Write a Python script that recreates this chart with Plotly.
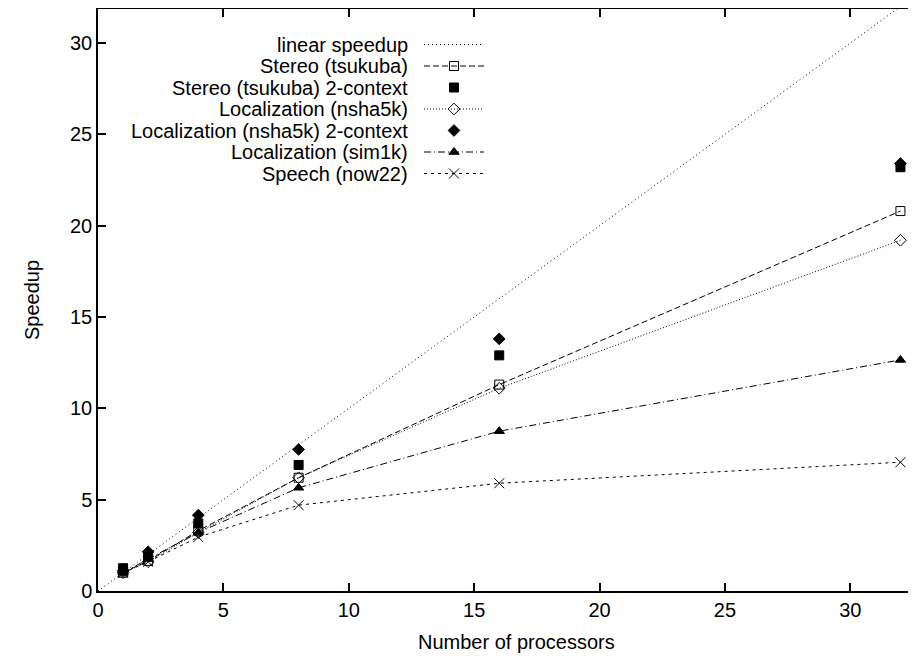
import plotly.graph_objects as go

# ---------------- data ----------------
procs = [1, 2, 4, 8, 16, 32]
linear_x = [0, 32]
linear_y = [0, 32]
stereo = [1.0, 1.65, 3.3, 6.2, 11.3, 20.8]
stereo_2ctx = [1.25, 1.9, 3.7, 6.9, 12.9, 23.2]
loc_nsha5k = [1.0, 1.6, 3.2, 6.2, 11.1, 19.2]
loc_nsha5k_2ctx = [1.1, 2.15, 4.15, 7.75, 13.8, 23.4]
loc_sim1k = [1.0, 1.75, 3.2, 5.65, 8.75, 12.65]
speech = [1.0, 1.6, 2.95, 4.7, 5.9, 7.05]

names = ["linear speedup", "Stereo (tsukuba)", "Stereo (tsukuba) 2-context",
         "Localization (nsha5k)", "Localization (nsha5k) 2-context",
         "Localization (sim1k)", "Speech (now22)"]
xtick_vals = [0, 5, 10, 15, 20, 25, 30]
ytick_vals = [0, 5, 10, 15, 20, 25, 30]

FONT = "Liberation Sans, Arial, sans-serif"
BLACK = "#000000"

styles = [
    dict(mode="lines", dash="1px,3px", symbol=None),
    dict(mode="lines+markers", dash="6px,3px", symbol="square-open"),
    dict(mode="markers", dash=None, symbol="square"),
    dict(mode="lines+markers", dash="1px,2px", symbol="diamond-open"),
    dict(mode="markers", dash=None, symbol="diamond"),
    dict(mode="lines+markers", dash="7px,3px,1px,3px", symbol="triangle-up"),
    dict(mode="lines+markers", dash="3px,4px", symbol="x-thin-open"),
]
series = [(linear_x, linear_y), (procs, stereo), (procs, stereo_2ctx),
          (procs, loc_nsha5k), (procs, loc_nsha5k_2ctx), (procs, loc_sim1k),
          (procs, speech)]
msize = {"square-open": 9, "square": 9, "diamond-open": 9, "diamond": 9,
         "triangle-up": 9, "x-thin-open": 10}

fig = go.Figure()
for (xs, ys), st, nm in zip(series, styles, names):
    kw = dict(x=xs, y=ys, mode=st["mode"], name=nm, showlegend=False,
              hoverinfo="skip")
    if "lines" in st["mode"]:
        kw["line"] = dict(color=BLACK, width=1, dash=st["dash"])
    if st["symbol"]:
        kw["marker"] = dict(symbol=st["symbol"], size=msize[st["symbol"]],
                            color=BLACK, line=dict(color=BLACK, width=1))
    fig.add_trace(go.Scatter(**kw))

# ---------------- geometry (screen pixels; page body has 8px margin) ----------------
OFF = 8
W, H = 916 - OFF, 658 - OFF
PL, PR, PT, PB = 98, 916, 9, 591          # plot area in screen pixels
L, T = PL - OFF, PT - OFF
B = H - (PB - OFF)
R = 0

# legend (gnuplot style) drawn on overlay axes in screen pixels
row_y0 = 44.5
row_dy = 21.5
text_right = 410
samp_x0, samp_x1 = 424, 484
for i, (st, nm) in enumerate(zip(styles, names)):
    yy = row_y0 + i * row_dy
    if "lines" in st["mode"]:
        fig.add_trace(go.Scatter(x=[samp_x0, samp_x1], y=[yy, yy], mode="lines",
                                 line=dict(color=BLACK, width=1, dash=st["dash"]),
                                 xaxis="x2", yaxis="y2", showlegend=False,
                                 hoverinfo="skip"))
    if st["symbol"]:
        fig.add_trace(go.Scatter(x=[(samp_x0 + samp_x1) / 2], y=[yy], mode="markers",
                                 marker=dict(symbol=st["symbol"], size=msize[st["symbol"]],
                                             color=BLACK, line=dict(color=BLACK, width=1)),
                                 xaxis="x2", yaxis="y2", showlegend=False,
                                 hoverinfo="skip"))
    fig.add_annotation(x=text_right, y=yy, xref="x2", yref="y2", text=nm,
                       showarrow=False, xanchor="right", yanchor="middle",
                       font=dict(family=FONT, size=20, color=BLACK))


def px(sx):
    return (sx - PL) / (PR - PL)


def py(sy):
    return (PB - sy) / (PB - PT)


fig.add_annotation(x=px(32), y=py(300), xref="paper", yref="paper", text="Speedup",
                   textangle=-90, showarrow=False, xanchor="center", yanchor="middle",
                   font=dict(family=FONT, size=20, color=BLACK))
fig.add_annotation(x=px(516), y=py(642), xref="paper", yref="paper",
                   text="Number of processors", showarrow=False,
                   xanchor="center", yanchor="middle",
                   font=dict(family=FONT, size=20, color=BLACK))

ppx = (850.3 - 98) / 30
ppy = 548 / 30
xmax = (PR - PL) / ppx
ymax = (PB - PT) / ppy

axis_common = dict(showgrid=False, zeroline=False, ticks="inside", ticklen=8,
                   tickwidth=1.5, tickcolor=BLACK, showline=True, linecolor=BLACK,
                   linewidth=1.5, tickfont=dict(family=FONT, size=20, color=BLACK))
fig.update_layout(
    width=W, height=H,
    margin=dict(l=L, r=R, t=T, b=B, pad=0),
    paper_bgcolor="white", plot_bgcolor="white",
    xaxis=dict(range=[0, xmax], tickvals=xtick_vals, mirror="ticks", **axis_common),
    yaxis=dict(range=[0, ymax], tickvals=ytick_vals, mirror=False, **axis_common),
    xaxis2=dict(range=[PL, PR], domain=[0, 1], anchor="y2", overlaying="x",
                visible=False, fixedrange=True),
    yaxis2=dict(range=[PB, PT], domain=[0, 1], anchor="x2", overlaying="y",
                visible=False, fixedrange=True),
    showlegend=False,
)

fig.write_html("out.html")
